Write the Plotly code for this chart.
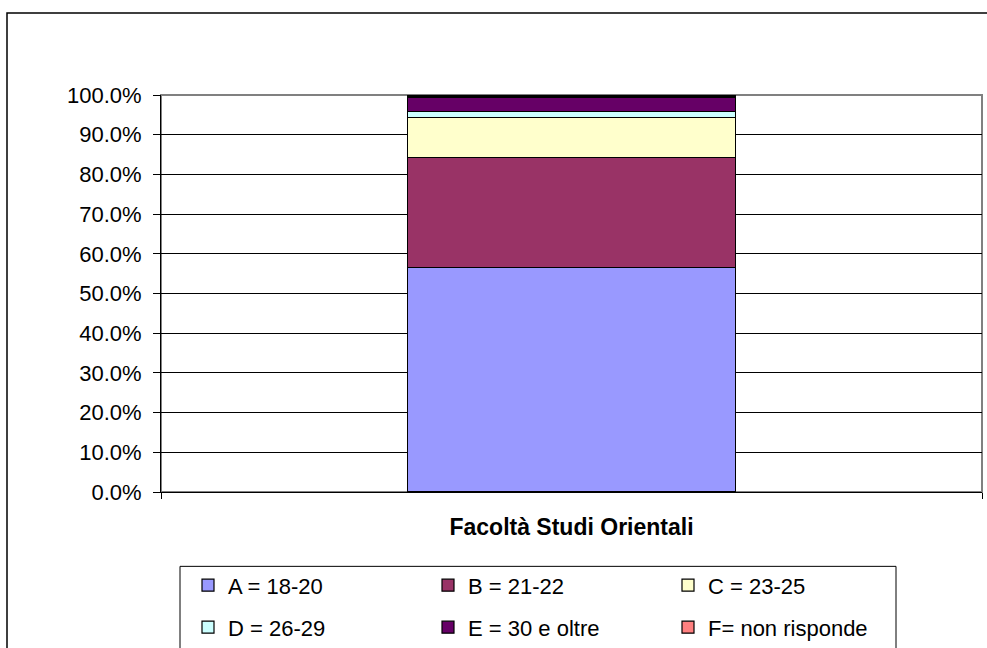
import plotly.graph_objects as go

category = ["Facoltà Studi Orientali"]
series_names = ["A = 18-20", "B = 21-22", "C = 23-25", "D = 26-29", "E = 30 e oltre", "F= non risponde"]
series_values = [0.566, 0.277, 0.101, 0.014, 0.037, 0.005]
series_colors = ["#9999FF", "#993366", "#FFFFCC", "#CCFFFF", "#660066", "#FF8080"]
y_ticks = [0, 0.1, 0.2, 0.3, 0.4, 0.5, 0.6, 0.7, 0.8, 0.9, 1.0]

FONT = "Liberation Sans, Arial, sans-serif"

W, H = 987, 648
L, R, T, B = 161, 982, 95, 491.7
pw, ph = R - L, B - T

def px(x):
    return (x - L) / pw

def py(y):
    return (B - y) / ph

fig = go.Figure()
for i, (n, v, c) in enumerate(zip(series_names, series_values, series_colors)):
    fig.add_trace(go.Bar(
        x=category, y=[v], name=n,
        marker=dict(color=c, line=dict(color="black", width=1.2)),
        width=0.4,
        legend="legend" if i < 3 else "legend2",
    ))

shapes = [
    dict(type="rect", xref="paper", yref="paper", x0=px(7), x1=px(1000), y0=py(700), y1=py(13),
         line=dict(color="black", width=1.5), fillcolor="rgba(0,0,0,0)", layer="below"),
    dict(type="rect", xref="paper", yref="paper", x0=0, x1=1, y0=0, y1=1,
         line=dict(color="#808080", width=2), fillcolor="rgba(0,0,0,0)", layer="below"),
    dict(type="rect", xref="paper", yref="paper", x0=px(180), x1=px(896), y0=py(700), y1=py(566),
         line=dict(color="black", width=1), fillcolor="rgba(0,0,0,0)", layer="below"),
]

leg_common = dict(orientation="h", xanchor="left", yanchor="top",
                  entrywidth=195, entrywidthmode="pixels", font=dict(size=22, family=FONT),
                  bgcolor="rgba(0,0,0,0)", borderwidth=0, traceorder="normal")

fig.update_layout(
    width=W, height=H,
    margin=dict(l=L, r=W - R, t=T, b=H - B, autoexpand=False),
    paper_bgcolor="white", plot_bgcolor="white",
    barmode="stack",
    font=dict(family=FONT, color="black"),
    showlegend=True,
    legend=dict(x=px(188), y=py(564), **leg_common),
    legend2=dict(x=px(188), y=py(606), **leg_common),
    shapes=shapes,
    xaxis=dict(type="category", range=[-0.5, 0.5], showline=True, linecolor="black", linewidth=1,
               ticks="outside", tickson="boundaries", ticklen=6, tickcolor="black",
               tickfont=dict(size=23, family=FONT, weight="bold"), showgrid=False,
               ticklabelstandoff=14),
    yaxis=dict(range=[0, 1], tickvals=y_ticks, tickformat=".1%", showline=True, linecolor="black",
               linewidth=1, ticks="outside", ticklen=7, tickcolor="black",
               showgrid=True, gridcolor="black", gridwidth=1, zeroline=False,
               tickfont=dict(size=22, family=FONT), ticklabelstandoff=7),
)

fig.write_html("out.html", config={"displayModeBar": False},
               post_script="document.body.style.margin='0';document.body.style.overflow='hidden';")
